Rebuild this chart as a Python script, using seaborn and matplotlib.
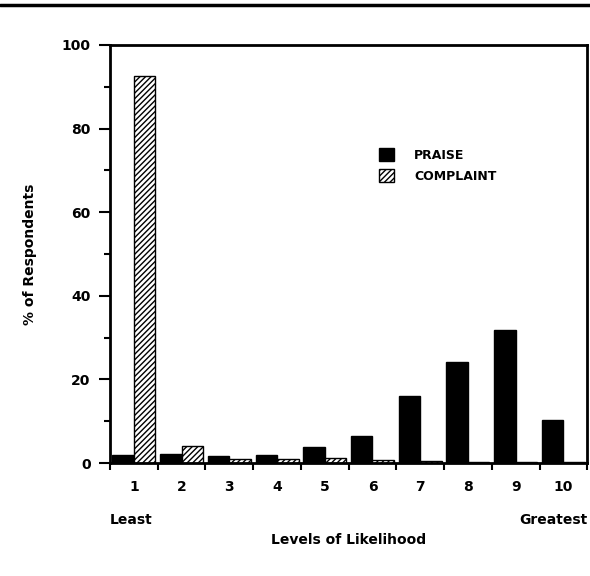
import numpy as np
import pandas as pd
import matplotlib
matplotlib.use("Agg")
import matplotlib.pyplot as plt
from matplotlib.patches import Patch
from matplotlib.ticker import MultipleLocator, FixedLocator
import seaborn as sns

# data
levels = ["1", "2", "3", "4", "5", "6", "7", "8", "9", "10"]
praise = [1.9, 2.1, 1.7, 1.9, 3.9, 6.5, 16.1, 24.2, 31.8, 10.3]
complaint = [92.6, 4.2, 1.0, 1.0, 1.3, 0.7, 0.4, 0.3, 0.3, 0.3]
series = ["PRAISE", "COMPLAINT"]

df = pd.DataFrame({
    "level": levels * 2,
    "pct": praise + complaint,
    "kind": [series[0]] * len(levels) + [series[1]] * len(levels),
})

sns.set_style("ticks", {"axes.edgecolor": "black", "text.color": "black",
                        "axes.labelcolor": "black", "xtick.color": "black",
                        "ytick.color": "black"})
plt.rcParams["font.family"] = ["DejaVu Sans"]
plt.rcParams["hatch.linewidth"] = 1.0

fig = plt.figure(figsize=(5.9, 5.76), dpi=100)
ax = fig.add_axes([0.1864, 0.196, 0.809, 0.726])

sns.barplot(data=df, x="level", y="pct", hue="kind", order=levels,
            hue_order=series, palette={"PRAISE": "black", "COMPLAINT": "white"},
            width=0.9, edgecolor="black", linewidth=1.0, gap=0, ax=ax)

for p in ax.containers[1]:
    p.set_hatch("//////")

ax.get_legend().remove()
handles = [Patch(facecolor="black", edgecolor="black"),
           Patch(facecolor="white", edgecolor="black", hatch="//////")]
ax.legend(handles, series, loc="upper left", bbox_to_anchor=(0.54, 0.78),
          frameon=False, handlelength=1.2, handleheight=1.2, handletextpad=1.6,
          labelspacing=0.6, prop={"size": 9, "weight": "bold"})

ax.set_ylim(0, 100)
ax.set_xlim(-0.5, 9.5)
ax.yaxis.set_major_locator(MultipleLocator(20))
ax.yaxis.set_minor_locator(MultipleLocator(10))
ax.xaxis.set_minor_locator(FixedLocator(np.arange(-0.5, 10, 1)))

for s in ax.spines.values():
    s.set_linewidth(2)
    s.set_visible(True)

ax.tick_params(axis="y", which="major", length=8, width=1.5, labelsize=10, pad=6)
ax.tick_params(axis="y", which="minor", length=4, width=1.5)
ax.tick_params(axis="x", which="major", length=0, labelsize=10, pad=12)
ax.tick_params(axis="x", which="minor", length=5, width=1.5)
for lab in ax.get_xticklabels() + ax.get_yticklabels():
    lab.set_fontweight("bold")

ax.set_xlabel("Levels of Likelihood", fontsize=10, fontweight="bold", labelpad=28)
ax.set_ylabel("% of Respondents", fontsize=10, fontweight="bold", labelpad=18)

ax.text(-0.5, -0.12, "Least", transform=ax.get_xaxis_transform(),
        ha="left", va="top", fontsize=10, fontweight="bold")
ax.text(9.5, -0.12, "Greatest", transform=ax.get_xaxis_transform(),
        ha="right", va="top", fontsize=10, fontweight="bold")

# rule across the top of the page
fig.add_artist(plt.Line2D([0, 1], [0.991, 0.991], color="black", linewidth=2.5))

fig.savefig("out.png", dpi=100)
